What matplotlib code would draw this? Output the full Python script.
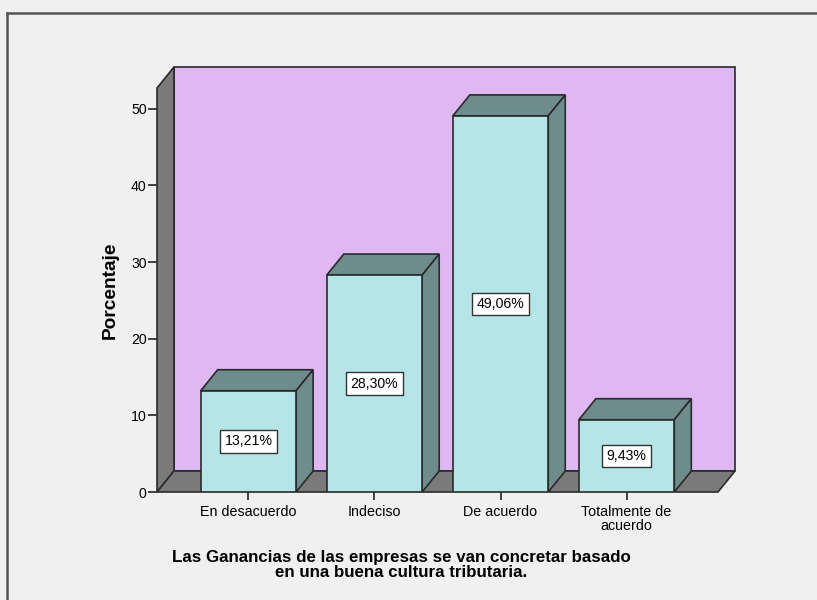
import matplotlib.pyplot as plt
from matplotlib.patches import Polygon, Rectangle
from matplotlib.lines import Line2D

plt.rcParams['font.family'] = ['Liberation Sans', 'DejaVu Sans']

# Data
categories = ['En desacuerdo', 'Indeciso', 'De acuerdo', 'Totalmente de\nacuerdo']
percentages = [13.21, 28.30, 49.06, 9.43]
value_labels = ['13,21%', '28,30%', '49,06%', '9,43%']
y_ticks = [0, 10, 20, 30, 40, 50]

# Colours
bg = '#F0F0F0'
wall_col = '#DFB8F3'
side_gray = '#7A7A7A'
bar_front = '#B4E6E8'
bar_dark = '#6E8C8C'
edge = '#2A2A2A'

# 3D geometry (data units)
x0, x1 = -0.725, 3.725
ytop = 52.7
dx, dy = 0.135, 2.74
bw = 0.757

W, H = 817, 600
fig = plt.figure(figsize=(W / 100, H / 100), dpi=100, facecolor=bg)

# axes covers front-left-bottom (157,492) to back-right-top (735,67)
ax = fig.add_axes([157 / W, (H - 492) / H, (735 - 157) / W, (492 - 67) / H])
ax.set_xlim(x0, x1 + dx)
ax.set_ylim(0, ytop + dy)
ax.set_facecolor('none')
for s in ax.spines.values():
    s.set_visible(False)

# back wall
ax.add_patch(Rectangle((x0 + dx, dy), x1 - x0, ytop, facecolor=wall_col,
                       edgecolor=edge, lw=1.2, zorder=1, clip_on=False))
# left wall
ax.add_patch(Polygon([(x0, 0), (x0 + dx, dy), (x0 + dx, ytop + dy), (x0, ytop)],
                     closed=True, facecolor=side_gray, edgecolor=edge, lw=1.2,
                     zorder=2, clip_on=False))
# floor
ax.add_patch(Polygon([(x0, 0), (x1, 0), (x1 + dx, dy), (x0 + dx, dy)],
                     closed=True, facecolor=side_gray, edgecolor=edge, lw=1.2,
                     zorder=2, clip_on=False))

# bars
for i, (v, lab) in enumerate(zip(percentages, value_labels)):
    l, r = i - bw / 2, i + bw / 2
    ax.add_patch(Polygon([(l, v), (r, v), (r + dx, v + dy), (l + dx, v + dy)],
                         closed=True, facecolor=bar_dark, edgecolor=edge, lw=1.2, zorder=3))
    ax.add_patch(Polygon([(r, 0), (r + dx, dy), (r + dx, v + dy), (r, v)],
                         closed=True, facecolor=bar_dark, edgecolor=edge, lw=1.2, zorder=3))
    ax.add_patch(Rectangle((l, 0), bw, v, facecolor=bar_front, edgecolor=edge,
                           lw=1.2, zorder=4))
    ax.text(i, v / 2, lab, ha='center', va='center', fontsize=10.2, zorder=5,
            bbox=dict(boxstyle='square,pad=0.3', facecolor='white',
                      edgecolor='#333333', lw=1))

ax.set_yticks(y_ticks)
ax.set_yticklabels([str(t) for t in y_ticks], fontsize=10.2)
ax.set_xticks(range(len(categories)))
ax.set_xticklabels(categories, fontsize=10.3, linespacing=1.0)
ax.tick_params(axis='y', length=6.5, width=1.2, color='#222222', pad=1)
ax.tick_params(axis='x', length=6, width=1.2, color='#222222', pad=3)

ax.set_ylabel('Porcentaje', fontsize=13.8, fontweight='bold')
ax.yaxis.set_label_coords((110 - 157) / (735 - 157), (492 - 290) / (492 - 67))
ax.yaxis.label.set_va('center')
fig.text(401 / W, 1 - 565 / H,
         'Las Ganancias de las empresas se van concretar basado\nen una buena cultura tributaria.',
         ha='center', va='center', fontsize=12.2, fontweight='bold', linespacing=1.05)

# outer frame (top and left edges)
fig.add_artist(Line2D([7 / W, 1], [1 - 13 / H, 1 - 13 / H], color='#555555', lw=1.8,
                      transform=fig.transFigure))
fig.add_artist(Line2D([7 / W, 7 / W], [0, 1 - 13 / H], color='#555555', lw=1.8,
                      transform=fig.transFigure))

fig.savefig('out.png', dpi=100, facecolor=bg)
